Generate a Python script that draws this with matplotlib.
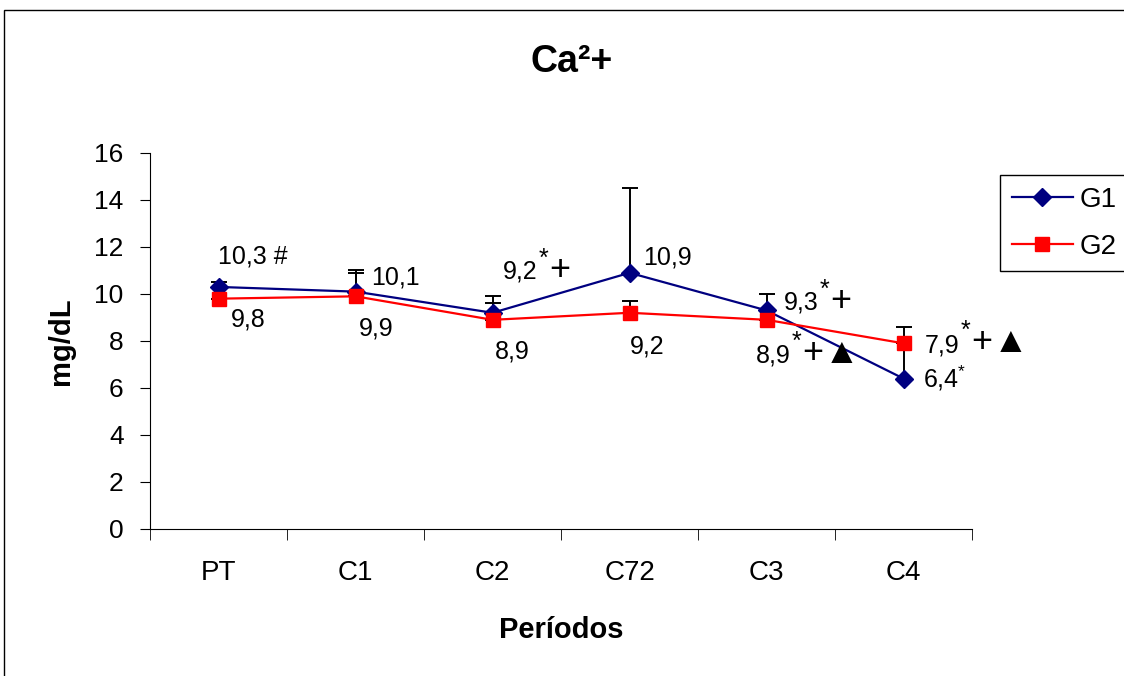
import matplotlib.pyplot as plt
from matplotlib.patches import Rectangle

plt.rcParams['font.family'] = ['Liberation Sans', 'DejaVu Sans']
plt.rcParams['mathtext.fontset'] = 'custom'
plt.rcParams['mathtext.rm'] = 'Liberation Sans'
plt.rcParams['mathtext.it'] = 'Liberation Sans'

periodos = ['PT', 'C1', 'C2', 'C72', 'C3', 'C4']
g1 = [10.3, 10.1, 9.2, 10.9, 9.3, 6.4]
g2 = [9.8, 9.9, 8.9, 9.2, 8.9, 7.9]
g1_err = [0.2, 0.9, 0.7, 3.6, 0.7, 2.2]
g2_err = [0.5, 1.0, 0.7, 0.5, 0.0, 0.0]
g1_labels = ['10,3 #', '10,1', '9,2', '10,9', '9,3', r'6,4$^{*}$']
g1_suffix = ['', '', r'$^{*}$+', '', r'$^{*}$+', '']
g2_labels = ['9,8', '9,9', '8,9', '9,2', '8,9', '7,9']
g2_suffix = ['', '', '', '', r'$^{*}$+▲', r'$^{*}$+▲']
# label offsets in pixels (dx, dy)
g1_off = [(-1, 30), (16, 14), (10, 41), (14, 15), (17, 8), (19, 0)]
g2_off = [(12, -21), (3, -32), (2, -32), (0, -34), (-11, -36), (21, -2)]

fig = plt.figure(figsize=(11.24, 6.76), dpi=100)
ax = fig.add_axes([0.1335, 0.2175, 0.7313, 0.5562])
x = list(range(len(periodos)))

ax.errorbar(x, g1, yerr=[[0]*6, g1_err], fmt='none', ecolor='black',
            elinewidth=1.4, capsize=6, capthick=1.4, zorder=1)
ax.errorbar(x, g2, yerr=[[0]*6, g2_err], fmt='none', ecolor='black',
            elinewidth=1.4, capsize=6, capthick=1.4, zorder=1)
ax.plot(x, g1, color='#000080', marker='D', markersize=9, lw=1.6, label='G1', zorder=3)
ax.plot(x, g2, color='#FF0000', marker='s', markersize=10, lw=1.6, label='G2', zorder=4)


def label(val, txt, suf, off, i):
    t = ax.annotate(txt, (i, val), xytext=off, textcoords='offset pixels',
                    ha='left', va='center', fontsize=18)
    if suf:
        ax.annotate(suf, xy=(1, 0.18), xycoords=t, xytext=(1, 0), textcoords='offset pixels',
                    ha='left', va='baseline', fontsize=26)


for i in x:
    label(g1[i], g1_labels[i], g1_suffix[i], g1_off[i], i)
    label(g2[i], g2_labels[i], g2_suffix[i], g2_off[i], i)

ax.set_xlim(-0.5, 5.5)
ax.set_ylim(0, 16)
ax.set_yticks(range(0, 17, 2))
ax.set_xticks(x)
ax.set_xticklabels(periodos)
ax.set_xticks([i - 0.5 for i in range(7)], minor=True)
ax.tick_params(axis='x', which='major', length=0, pad=22, labelsize=20)
ax.tick_params(axis='x', which='minor', length=8, direction='out')
ax.tick_params(axis='y', length=7, pad=12, labelsize=19)
ax.spines['top'].set_visible(False)
ax.spines['right'].set_visible(False)

ax.set_xlabel('Períodos', fontsize=21, fontweight='bold', labelpad=22)
ax.set_ylabel('mg/dL', fontsize=21, fontweight='bold', labelpad=14)
fig.text(0.509, 0.908, 'Ca²+', ha='center', va='center', fontsize=27, fontweight='bold')

ax.legend(loc='upper left', bbox_to_anchor=(1000/1124, (676-175)/676),
          bbox_transform=fig.transFigure, fontsize=20, frameon=True, fancybox=False,
          edgecolor='black', framealpha=1, handlelength=2.2, labelspacing=0.75,
          borderpad=0.42, handletextpad=0.25, borderaxespad=0)

fig.patches.append(Rectangle((4/1124, -0.1), 2, (676-10)/676 + 0.1, transform=fig.transFigure,
                             fill=False, edgecolor='black', lw=1))

fig.savefig('out.png', dpi=100)
